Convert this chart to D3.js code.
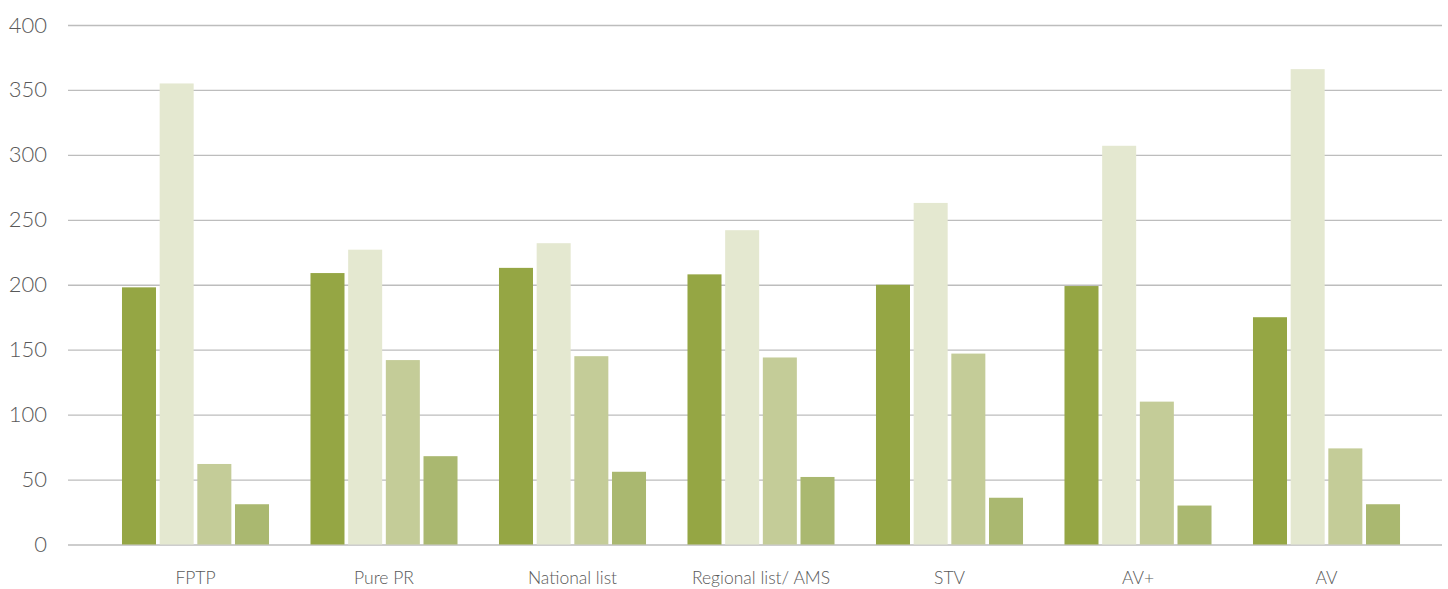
<!DOCTYPE html>
<html>
<head>
<meta charset="utf-8">
<script src="https://cdn.jsdelivr.net/npm/d3@7"></script>
<style>
    body { margin: 0; background: #fff; }
    .canvas text { font-family: Lato, "Open Sans", sans-serif; font-weight: 300; fill: #595959; }
</style>
</head>
<body>
<div class="canvas"></div>
<script>
// data
const categories = ['FPTP', 'Pure PR', 'National list', 'Regional list/ AMS', 'STV', 'AV+', 'AV'];
const seriesNames = ['s1', 's2', 's3', 's4'];
const series1 = [198, 209, 213, 208, 200, 199, 175];
const series2 = [355, 227, 232, 242, 263, 307, 366];
const series3 = [62, 142, 145, 144, 147, 110, 74];
const series4 = [31, 68, 56, 52, 36, 30, 31];
const yTicks = [0, 50, 100, 150, 200, 250, 300, 350, 400];

const colors = ['#95a644', '#e4e8d0', '#c4cc98', '#aab870'];
const seriesValues = [series1, series2, series3, series4];

const width = 1448;
const height = 589;

const svg = d3.select('.canvas')
    .append('svg')
    .attr('width', width)
    .attr('height', height)
;

// scales
const y = d3.scaleLinear().domain([0, 400]).range([544.5, 25]);
const x0 = d3.scaleBand()
    .domain(categories)
    .range([101.25, 1420.75])
    .paddingInner(0.22)
    .paddingOuter(0.11)
;
const x1 = d3.scaleBand()
    .domain(seriesNames)
    .range([0, x0.bandwidth()])
    .paddingInner(0.097)
;

// gridlines
const yAxis = d3.axisLeft(y)
    .tickValues(yTicks)
    .tickSize(-(1442 - 68))
    .tickPadding(21)
;
const yAxisGroup = svg.append('g')
    .attr('class', 'y-axis')
    .attr('transform', 'translate(68, 0)')
    .call(yAxis)
;
yAxisGroup.select('.domain').remove();
yAxisGroup.selectAll('line')
    .attr('stroke', '#bdbdbd')
    .attr('stroke-width', 1.3)
;
yAxisGroup.selectAll('text')
    .attr('font-size', 22)
    .attr('font-family', null)
;

// bars
const groups = svg.selectAll('g.group')
    .data(categories.map((c, i) => ({ cat: c, vals: seriesValues.map(s => s[i]) })))
    .enter()
    .append('g')
        .attr('class', 'group')
        .attr('transform', d => `translate(${x0(d.cat)}, 0)`)
;
groups.selectAll('rect')
    .data(d => d.vals.map((v, j) => ({ key: seriesNames[j], v, j })))
    .enter()
    .append('rect')
        .attr('x', d => x1(d.key))
        .attr('y', d => y(d.v))
        .attr('width', x1.bandwidth())
        .attr('height', d => y(0) - y(d.v))
        .attr('fill', d => colors[d.j])
;

// x axis labels
const xAxis = d3.axisBottom(x0).tickSize(0).tickPadding(27);
const xAxisGroup = svg.append('g')
    .attr('class', 'x-axis')
    .attr('transform', `translate(0, ${y(0)})`)
    .call(xAxis)
;
xAxisGroup.select('.domain').remove();
xAxisGroup.selectAll('text')
    .attr('font-size', 17.5)
    .attr('font-family', null)
;
</script>
</body>
</html>
